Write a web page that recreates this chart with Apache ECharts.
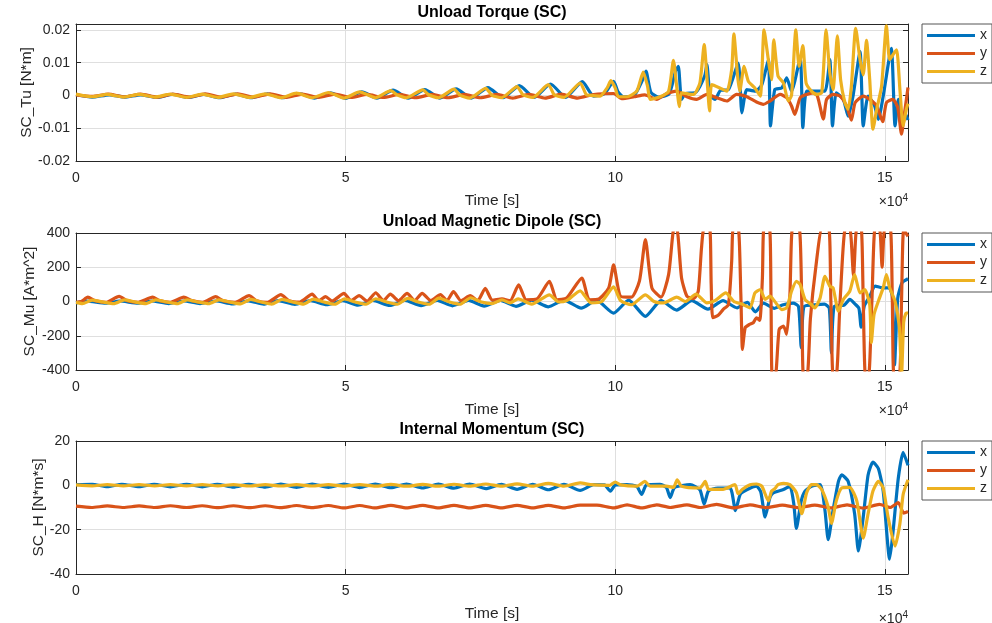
<!DOCTYPE html>
<html>
<head>
<meta charset="utf-8">
<script src="https://cdn.jsdelivr.net/npm/echarts@6/dist/echarts.min.js"></script>
<style>
html, body { margin: 0; padding: 0; background: #ffffff; }
#chart { width: 992px; height: 623px; }
</style>
</head>
<body>
<div id="chart"></div>
<script>
// Time values are in units of 1e4 s (the axis carries a "x10^4" multiplier).

// ---- Unload Torque (SC) [N*m] ----
const torqueX = [
  [0, 0.0002], [0.3, -0.0005], [0.62, 0.0002], [0.9, -0.0005], [1.2, 0.0002], [1.5, -0.0006], [1.79, 0.0003],
  [2.08, -0.0006], [2.38, 0.0003], [2.66, -0.0007], [2.96, 0.0004], [3.25, -0.0007], [3.55, 0.0005], [3.83, -0.0007],
  [4.13, 0.0006], [4.42, -0.0008], [4.72, 0.0008], [5.0, -0.0009], [5.3, 0.0011], [5.58, -0.0008], [5.88, 0.0016],
  [6.16, -0.0008], [6.47, 0.0018], [6.75, -0.0008], [7.05, 0.002], [7.33, -0.0008], [7.64, 0.0024], [7.92, -0.0007],
  [8.22, 0.003], [8.5, -0.0006], [8.8, 0.0035], [9.08, -0.0006], [9.39, 0.0042], [9.6, -0.0002], [9.8, 0.0005],
  [9.97, 0.0043], [10.05, 0.0012], [10.15, -0.0004], [10.35, 0], [10.5, 0.0045], [10.57, 0.0074], [10.66, 0.001],
  [10.8, -0.0005], [11.0, 0.0005], [11.12, 0.0075], [11.17, 0.0089], [11.23, -0.0012], [11.3, 0.0005], [11.5, 0.001],
  [11.66, 0.006], [11.7, 0.0094], [11.76, 0.0], [11.85, -0.0012], [11.95, 0.0015], [12.1, 0.0018], [12.28, 0.0099],
  [12.35, -0.0053], [12.44, 0.0018], [12.6, 0.0013], [12.72, 0.0033], [12.84, 0.0109], [12.88, -0.0093], [12.96, 0.0018],
  [13.09, 0.0023], [13.18, 0.0054], [13.27, 0.0013], [13.43, 0.0114], [13.48, -0.0098], [13.55, 0.0013], [13.73, 0.0013],
  [13.89, 0.0013], [13.98, 0.0109], [14.03, -0.0093], [14.1, 0.0008], [14.23, -0.0012], [14.32, -0.0063], [14.41, -0.0002],
  [14.54, 0.0134], [14.6, -0.0093], [14.69, -0.0002], [14.81, -0.0032], [14.88, -0.0073], [14.97, -0.0002], [15.12, 0.0144],
  [15.19, -0.0093], [15.25, -0.0012], [15.31, -0.0073], [15.37, -0.0053], [15.43, -0.0075]
];
const torqueY = [
  [0, 0.0002], [0.3, -0.0003], [0.6, 0.0004], [0.9, -0.0004], [1.2, 0.0004], [1.5, -0.0005], [1.8, 0.0004],
  [2.1, -0.0005], [2.4, 0.0005], [2.7, -0.0005], [3.0, 0.0005], [3.3, -0.0005], [3.6, 0.0005], [3.9, -0.0006],
  [4.2, 0.0004], [4.5, -0.0006], [4.8, 0.0004], [5.1, -0.0006], [5.4, 0.0003], [5.7, -0.0006], [6.0, 0.0003],
  [6.3, -0.0007], [6.6, 0.0003], [6.9, -0.0007], [7.2, 0.0003], [7.5, -0.0007], [7.8, 0.0003], [8.1, -0.0008],
  [8.4, 0.0003], [8.7, -0.0008], [9.0, 0.0004], [9.3, -0.0008], [9.6, 0.0003], [9.97, 0.0006], [10.12, -0.001],
  [10.35, -0.0004], [10.55, 0.0002], [10.77, -0.0012], [10.95, 0.0005], [11.14, 0.0013], [11.33, -0.0004], [11.51, -0.0012],
  [11.7, 0.0003], [11.88, -0.0007], [12.07, -0.0017], [12.25, 0.0003], [12.44, -0.0004], [12.62, -0.002], [12.75, -0.0027],
  [12.87, -0.0017], [13.06, 0.0003], [13.18, -0.0007], [13.27, -0.0032], [13.33, -0.0058], [13.43, -0.0007], [13.55, 0.0003],
  [13.67, 0.0008], [13.75, -0.0002], [13.86, -0.0072], [13.92, -0.0012], [14.04, 0.0003], [14.17, -0.0002], [14.29, -0.0032],
  [14.38, -0.0075], [14.45, -0.0022], [14.6, -0.0002], [14.72, -0.0012], [14.85, -0.0032], [14.96, -0.008], [15.03, -0.0022],
  [15.15, -0.0012], [15.24, -0.0037], [15.31, -0.0118], [15.36, -0.006], [15.43, 0.0024]
];
const torqueZ = [
  [0, 0.0004], [0.3, -0.0004], [0.58, 0.0003], [0.88, -0.0005], [1.17, 0.0003], [1.46, -0.0005], [1.75, 0.0004],
  [2.05, -0.0006], [2.34, 0.0004], [2.63, -0.0006], [2.92, 0.0005], [3.22, -0.0006], [3.51, 0.0005], [3.8, -0.0007],
  [4.09, 0.0007], [4.38, -0.0007], [4.68, 0.0009], [4.97, -0.0008], [5.26, 0.0011], [5.55, -0.0007], [5.84, 0.0015],
  [5.95, 0.0002], [6.13, -0.0007], [6.43, 0.0017], [6.54, 0.0002], [6.72, -0.0007], [7.01, 0.0019], [7.12, 0.0001],
  [7.3, -0.0008], [7.6, 0.0022], [7.71, 0.0001], [7.89, -0.0007], [8.18, 0.0027], [8.29, 0.0002], [8.47, -0.0006],
  [8.76, 0.0033], [8.87, 0.0002], [9.05, -0.0006], [9.35, 0.0038], [9.46, 0.0003], [9.54, 0], [9.72, -0.0002],
  [9.85, 0.0023], [9.92, 0.0045], [10.0, 0.0023], [10.06, -0.0004], [10.22, -0.0004], [10.4, 0.0013], [10.52, 0.0071],
  [10.6, 0.0028], [10.65, -0.0012], [10.83, -0.0004], [10.99, 0.0013], [11.08, 0.0107], [11.14, 0.0028], [11.19, -0.0034],
  [11.23, 0.0008], [11.45, 0.0003], [11.57, 0.0038], [11.65, 0.0155], [11.71, 0.0033], [11.75, -0.0047], [11.79, 0.0033],
  [11.94, 0.0023], [12.07, 0.0013], [12.16, 0.0079], [12.2, 0.0188], [12.27, 0.0059], [12.31, 0.0013], [12.39, 0.0089],
  [12.47, 0.0043], [12.59, 0.0023], [12.69, -0.0002], [12.76, 0.02], [12.84, 0.0109], [12.9, 0.0048], [12.94, 0.017],
  [13.02, 0.0059], [13.12, 0.0038], [13.21, -0.0017], [13.27, 0], [13.35, 0.02], [13.41, 0.0089], [13.48, 0.0152],
  [13.54, 0.0038], [13.64, 0.0013], [13.73, 0.0003], [13.83, 0.0008], [13.91, 0.02], [13.98, 0.0069], [14.04, 0.0018],
  [14.12, 0.0182], [14.18, 0.0048], [14.26, -0.0022], [14.32, -0.0042], [14.38, 0.0028], [14.46, 0.0205], [14.54, 0.0109],
  [14.6, 0.0063], [14.66, 0.0168], [14.72, 0.0048], [14.78, -0.0103], [14.85, -0.0042], [14.94, 0.0028], [15.03, 0.0212],
  [15.09, 0.0109], [15.17, 0.0129], [15.22, 0.0139], [15.28, 0.0018], [15.34, -0.0093], [15.4, -0.0042], [15.43, -0.0025]
];

// ---- Unload Magnetic Dipole (SC) [A*m^2] ----
const dipoleX = [
  [0, -8], [0.2, 2], [0.55, -10], [0.8, 3], [1.15, -10], [1.4, 3], [1.72, -12], [2.0, 3], [2.3, -12], [2.6, 3],
  [2.9, -14], [3.2, 4], [3.48, -15], [3.75, 5], [4.06, -17], [4.35, 5], [4.65, -19], [4.95, 5], [5.23, -22], [5.5, 6],
  [5.82, -23], [6.1, 6], [6.4, -24], [6.7, 6], [6.98, -25], [7.28, 6], [7.57, -27], [7.87, 6], [8.16, -28], [8.45, 8],
  [8.76, -31], [9.05, 8], [9.37, -39], [9.65, 8], [9.97, -68], [10.25, 8], [10.56, -87], [10.85, 5], [11.14, -50],
  [11.42, 5], [11.72, -45], [12.0, 5], [12.26, -37], [12.45, -5], [12.6, -60], [12.75, -10], [12.95, -40], [13.1, -20],
  [13.3, -10], [13.4, -30], [13.45, -270], [13.5, -30], [13.7, -20], [13.88, -15], [13.97, -40], [14.01, -300], [14.06, -30],
  [14.25, -20], [14.35, 12], [14.45, -15], [14.52, -40], [14.56, -150], [14.62, -25], [14.72, 30], [14.82, 90], [14.95, 80],
  [15.08, 80], [15.14, 30], [15.18, -370], [15.24, 20], [15.32, 110], [15.43, 133]
];
const dipoleY = [
  [0, -5], [0.1, 0], [0.22, 25], [0.35, 5], [0.55, -5], [0.8, 30], [0.95, 5], [1.15, -5], [1.42, 25], [1.55, 5],
  [1.75, -5], [2.0, 25], [2.15, 5], [2.35, -5], [2.59, 28], [2.72, 5], [2.95, -5], [3.21, 34], [3.35, 5], [3.55, -5],
  [3.8, 40], [3.95, 5], [4.15, -3], [4.38, 43], [4.5, 5], [4.63, 28], [4.75, 3], [4.97, 47], [5.1, 5], [5.25, 34],
  [5.4, 3], [5.56, 51], [5.7, 5], [5.83, 43], [5.98, 5], [6.14, 47], [6.28, 5], [6.42, 47], [6.58, 5], [6.76, 40],
  [6.88, 5], [7.0, 58], [7.14, 5], [7.31, 34], [7.45, 5], [7.59, 77], [7.72, 8], [7.9, 15], [8.05, 5], [8.21, 97],
  [8.35, 10], [8.55, 15], [8.78, 117], [8.92, 10], [9.1, 20], [9.38, 137], [9.52, 10], [9.7, 15], [9.88, 80], [9.97, 214],
  [10.1, 30], [10.3, 25], [10.45, 120], [10.56, 361], [10.68, 80], [10.85, 25], [10.99, 157], [11.08, 420], [11.14, 430],
  [11.23, 138], [11.33, 31], [11.45, 17], [11.54, 60], [11.6, 312], [11.65, 430], [11.75, 430], [11.78, 100], [11.81, -95],
  [11.91, -80], [12.0, -47], [12.1, -17], [12.16, 235], [12.19, 430], [12.28, 430], [12.33, 40], [12.36, -280], [12.41, -153],
  [12.49, -134], [12.56, -124], [12.62, -95], [12.68, -110], [12.73, 138], [12.76, 430], [12.86, 430], [12.89, 0],
  [12.91, -430], [12.97, -430], [13.04, -163], [13.12, -144], [13.18, -192], [13.24, 40], [13.29, 430], [13.41, 430],
  [13.46, 0], [13.49, -430], [13.56, -430], [13.62, -100], [13.72, 200], [13.84, 430], [13.96, 430], [14.0, 0],
  [14.04, -430], [14.1, -430], [14.17, 0], [14.27, 430], [14.35, 430], [14.42, 150], [14.48, 430], [14.56, 430],
  [14.6, 0], [14.64, -430], [14.7, -430], [14.76, 0], [14.82, 430], [14.9, 430], [14.95, 200], [15.0, 430], [15.1, 430],
  [15.14, 0], [15.17, -430], [15.27, -430], [15.31, 0], [15.35, 420], [15.43, 380]
];
const dipoleZ = [
  [0, -5], [0.12, -12], [0.3, 8], [0.5, -3], [0.7, -12], [0.9, 10], [1.1, -3], [1.3, -12], [1.48, 10], [1.68, -3],
  [1.88, -13], [2.06, 10], [2.26, -3], [2.46, -13], [2.65, 10], [2.85, -3], [3.05, -14], [3.24, 12], [3.44, -3],
  [3.63, -15], [3.82, 12], [4.02, -3], [4.22, -15], [4.4, 14], [4.6, -3], [4.8, -16], [4.98, 15], [5.18, -3],
  [5.38, -16], [5.56, 16], [5.76, -3], [5.96, -16], [6.15, 18], [6.35, -3], [6.55, -16], [6.73, 20], [6.93, -3],
  [7.12, -16], [7.32, 22], [7.52, -3], [7.72, -12], [7.9, 10], [8.05, -8], [8.2, 15], [8.45, -15], [8.78, 39],
  [8.95, -3], [9.1, 5], [9.35, 62], [9.55, -8], [9.75, 0], [9.97, 85], [10.1, 5], [10.3, -19], [10.56, 39], [10.72, 0],
  [10.9, -8], [11.14, 25], [11.3, 0], [11.5, 43], [11.7, -8], [11.85, 5], [12.05, 50], [12.2, 0], [12.35, -15],
  [12.5, -37], [12.59, 50], [12.69, 70], [12.78, 12], [12.87, 31], [12.96, 0], [13.09, -47], [13.18, -37], [13.27, 60],
  [13.36, 118], [13.43, 99], [13.52, 12], [13.64, -18], [13.7, -37], [13.8, 21], [13.89, 147], [13.98, 89], [14.04, 80],
  [14.14, -56], [14.23, 12], [14.35, 60], [14.44, 157], [14.54, 50], [14.63, 70], [14.72, -20], [14.75, -240],
  [14.8, -76], [14.88, 2], [14.97, 80], [15.03, 157], [15.09, 80], [15.19, 2], [15.27, -153], [15.31, -430],
  [15.35, -120], [15.39, -70], [15.43, -66]
];

// ---- Internal Momentum (SC) [N*m*s] ----
const momentumX = [
  [0, 0.3], [0.3, 0.5], [0.58, -0.6], [0.85, 0.5], [1.17, -0.6], [1.45, 0.5], [1.75, -0.7], [2.05, 0.5], [2.34, -0.7],
  [2.62, 0.5], [2.92, -0.8], [3.2, 0.5], [3.51, -0.8], [3.8, 0.6], [4.09, -0.9], [4.38, 0.6], [4.68, -0.9], [4.97, 0.6],
  [5.26, -1.0], [5.55, 0.6], [5.84, -1.1], [6.13, 0.6], [6.43, -1.2], [6.72, 0.6], [7.01, -1.3], [7.3, 0.6], [7.6, -1.5],
  [7.89, 0.5], [8.18, -1.8], [8.47, 0.5], [8.76, -2.0], [9.05, 0.5], [9.35, -2.3], [9.6, 0.3], [9.8, 0.2], [9.91, -2.6],
  [10.0, 0.1], [10.22, 0.3], [10.4, -0.5], [10.49, -4.1], [10.58, 0.2], [10.83, 0.5], [10.95, -1.0], [11.02, -5.5],
  [11.1, -1.0], [11.39, 0.3], [11.57, -2.0], [11.65, -8.5], [11.73, -2.5], [11.9, -1.2], [12.13, -1.2], [12.23, -11.4],
  [12.32, -4.0], [12.44, -2.0], [12.62, -0.4], [12.7, -3], [12.78, -14.3], [12.87, -5.5], [12.93, -3.4], [13.12, -1.9],
  [13.24, -0.4], [13.31, -8], [13.36, -19.4], [13.45, -7], [13.52, -2.6], [13.64, -0.4], [13.8, 0.3], [13.89, -11.3],
  [13.95, -24.5], [14.04, -11.3], [14.14, 1.8], [14.2, 4.7], [14.32, 1.8], [14.44, -12.8], [14.51, -29.6], [14.6, -14.3],
  [14.69, 4.7], [14.78, 10.5], [14.88, 7.6], [14.97, -2.6], [15.09, -33.3], [15.15, -21.6], [15.25, 3.2], [15.34, 14.9],
  [15.43, 9.0]
];
const momentumY = [
  [0, -9.4], [0.29, -10.0], [0.58, -9.3], [0.88, -10.0], [1.17, -9.3], [1.46, -10.0], [1.75, -9.2], [2.05, -10.0],
  [2.34, -9.2], [2.63, -10.1], [2.92, -9.2], [3.22, -10.1], [3.51, -9.2], [3.8, -10.1], [4.09, -9.1], [4.38, -10.1],
  [4.68, -9.1], [4.97, -10.2], [5.26, -9.1], [5.55, -10.2], [5.84, -9.0], [6.13, -10.2], [6.43, -9.0], [6.72, -10.2],
  [7.01, -9.0], [7.3, -10.2], [7.6, -9.0], [7.89, -10.2], [8.18, -9.0], [8.47, -10.2], [8.76, -9.0], [9.05, -10.2],
  [9.35, -8.9], [9.66, -8.9], [9.97, -10.2], [10.22, -8.8], [10.49, -10.2], [10.77, -8.8], [11.02, -10.0], [11.33, -8.8],
  [11.57, -10.0], [11.88, -8.6], [12.19, -10.2], [12.5, -8.8], [12.8, -10.1], [13.1, -8.9], [13.4, -10.1], [13.7, -8.9],
  [14.0, -10.2], [14.3, -8.8], [14.6, -10.3], [14.9, -8.6], [15.1, -10.0], [15.25, -7.8], [15.35, -12.5], [15.43, -11.8]
];
const momentumZ = [
  [0, 0.2], [0.3, -0.2], [0.58, 0.3], [0.88, -0.2], [1.17, 0.3], [1.46, -0.2], [1.75, 0.3], [2.05, -0.2], [2.34, 0.3],
  [2.63, -0.2], [2.92, 0.3], [3.22, -0.3], [3.51, 0.3], [3.8, -0.3], [4.09, 0.3], [4.38, -0.3], [4.68, 0.3], [4.97, -0.4],
  [5.26, 0.3], [5.55, -0.4], [5.84, 0.4], [6.13, -0.4], [6.43, 0.4], [6.72, -0.4], [7.01, 0.5], [7.3, -0.4], [7.6, 0.6],
  [7.89, -0.4], [8.18, 0.7], [8.47, -0.4], [8.76, 0.9], [9.05, -0.4], [9.35, 1.1], [9.54, 0.3], [9.9, 0.0], [10.0, 1.5],
  [10.1, 0.2], [10.4, -0.4], [10.55, 1.75], [10.65, -0.4], [10.95, -0.4], [11.08, -0.9], [11.15, 2.5], [11.23, -0.4],
  [11.57, -1.2], [11.67, 1.75], [11.73, -1.8], [12.0, -1.8], [12.22, 0.3], [12.28, -3.8], [12.36, -1.8], [12.5, 0.3],
  [12.62, 0.6], [12.72, -0.4], [12.84, -7.0], [12.9, -2.6], [12.96, -1.5], [13.02, 0.3], [13.12, 0.9], [13.24, 0.3],
  [13.36, -3.3], [13.46, -12.8], [13.55, -3.3], [13.64, 0.3], [13.73, 0.3], [13.83, -1.9], [13.95, -9.8], [14.01, -17.2],
  [14.1, -7.0], [14.2, -1.2], [14.35, -0.9], [14.48, -7.0], [14.6, -23.8], [14.69, -12.8], [14.78, -2.6], [14.88, 1.75],
  [14.97, -1.2], [15.06, -14.3], [15.19, -27.4], [15.28, -17.2], [15.34, -4.1], [15.43, 2.5]
];

// ---- axes / labels ----
const panelTitles = ['Unload Torque (SC)', 'Unload Magnetic Dipole (SC)', 'Internal Momentum (SC)'];
const yAxisNames = ['SC_Tu [N*m]', 'SC_Mu [A*m^2]', 'SC_H [N*m*s]'];
const yLimits = [[-0.02, 0.0218], [-400, 400], [-40, 20]];
const yIntervals = [0.01, 200, 20];
const xLabel = 'Time [s]';
const xLimits = [0, 15.43];
const xInterval = 5;
const legendNames = ['x', 'y', 'z'];
const panelData = [
  [torqueX, torqueY, torqueZ],
  [dipoleX, dipoleY, dipoleZ],
  [momentumX, momentumY, momentumZ]
];

const colors = ['#0072BD', '#D95319', '#EDB120'];
const FONT = '"Liberation Sans", Arial, Helvetica, sans-serif';
const AXIS_COLOR = '#262626';
const GRID_COLOR = '#dfdfdf';

const gridTops = [24, 233, 441];
const gridHeight = 137;
const gridLeft = 76;
const gridRight = 84;
const yNameGaps = [41.5, 38, 29.5];

function onStep(v, step) {
  const k = Math.round(v / step);
  return Math.abs(v - k * step) < step * 1e-6;
}

const grids = [], xAxes = [], yAxes = [], series = [], legends = [], graphics = [];

gridTops.forEach((top, i) => {
  grids.push({ left: gridLeft, right: gridRight, top: top, height: gridHeight, containLabel: false });

  // bottom axis with labels
  xAxes.push({
    type: 'value', gridIndex: i, position: 'bottom', min: xLimits[0], max: xLimits[1], interval: xInterval,
    name: xLabel, nameLocation: 'middle', nameGap: 32, nameMoveOverlap: false,
    nameTextStyle: { fontFamily: FONT, fontSize: 15.5, color: AXIS_COLOR },
    axisLine: { show: true, onZero: false, lineStyle: { color: AXIS_COLOR, width: 1 } },
    axisTick: { show: true, inside: true, length: 5, lineStyle: { color: AXIS_COLOR } },
    axisLabel: {
      margin: 10, fontFamily: FONT, fontSize: 14, color: AXIS_COLOR,
      formatter: v => onStep(v, xInterval) ? String(Math.round(v)) : ''
    },
    splitLine: { show: true, lineStyle: { color: GRID_COLOR, width: 1 } }
  });
  yAxes.push({
    type: 'value', gridIndex: i, position: 'left', min: yLimits[i][0], max: yLimits[i][1], interval: yIntervals[i],
    name: yAxisNames[i], nameLocation: 'middle', nameGap: yNameGaps[i], nameMoveOverlap: false,
    nameTextStyle: { fontFamily: FONT, fontSize: 15.5, color: AXIS_COLOR },
    axisLine: { show: true, onZero: false, lineStyle: { color: AXIS_COLOR, width: 1 } },
    axisTick: { show: true, inside: true, length: 5, lineStyle: { color: AXIS_COLOR } },
    axisLabel: {
      margin: 6, fontFamily: FONT, fontSize: 14, color: AXIS_COLOR,
      formatter: v => onStep(v, yIntervals[i]) ? String(+v.toFixed(4)) : ''
    },
    splitLine: { show: true, lineStyle: { color: GRID_COLOR, width: 1 } }
  });

  legendNames.forEach((name, s) => {
    series.push({
      type: 'line', name: name, xAxisIndex: i, yAxisIndex: i, data: panelData[i][s],
      showSymbol: false, smooth: 0.2, clip: true,
      lineStyle: { color: colors[s], width: 3.2 }, itemStyle: { color: colors[s] },
      emphasis: { disabled: true }, z: 2 + s
    });
  });

  legends.push({
    left: 922, top: top, orient: 'vertical', icon: 'rect', itemWidth: 48, itemHeight: 3, itemGap: 3,
    padding: [4, 5, 4, 5], borderColor: '#555', borderWidth: 1, backgroundColor: '#fff',
    textStyle: { fontFamily: FONT, fontSize: 14, color: AXIS_COLOR, lineHeight: 15 },
    selectedMode: false, data: legendNames
  });

  graphics.push({
    type: 'text', x: (gridLeft + (992 - gridRight)) / 2, y: top - 11,
    style: { text: panelTitles[i], fill: '#000', font: 'bold 16px ' + FONT, align: 'center', verticalAlign: 'middle' }
  });
  graphics.push({
    type: 'text', x: 992 - gridRight, y: top + gridHeight + 41,
    style: {
      text: '{m|×10}{e|4}', align: 'right', verticalAlign: 'middle', fill: AXIS_COLOR,
      rich: {
        m: { fontFamily: FONT, fontSize: 14, color: AXIS_COLOR },
        e: { fontFamily: FONT, fontSize: 10, color: AXIS_COLOR, verticalAlign: 'top', padding: [0, 0, 8, 0] }
      }
    }
  });
});

// mirrored axes on top and right to close the box with inward ticks
gridTops.forEach((top, i) => {
  xAxes.push({
    type: 'value', gridIndex: i, position: 'top', min: xLimits[0], max: xLimits[1], interval: xInterval,
    axisLine: { show: true, onZero: false, lineStyle: { color: AXIS_COLOR, width: 1 } },
    axisTick: { show: true, inside: true, length: 5, lineStyle: { color: AXIS_COLOR } },
    axisLabel: { show: false }, splitLine: { show: false }
  });
  yAxes.push({
    type: 'value', gridIndex: i, position: 'right', min: yLimits[i][0], max: yLimits[i][1], interval: yIntervals[i],
    axisLine: { show: true, onZero: false, lineStyle: { color: AXIS_COLOR, width: 1 } },
    axisTick: { show: true, inside: true, length: 5, lineStyle: { color: AXIS_COLOR } },
    axisLabel: { show: false }, splitLine: { show: false }
  });
});

const chart = echarts.init(document.getElementById('chart'), null, { renderer: 'canvas' });
chart.setOption({
  animation: false,
  backgroundColor: '#ffffff',
  grid: grids,
  xAxis: xAxes,
  yAxis: yAxes,
  legend: legends,
  series: series,
  graphic: graphics
});
</script>
</body>
</html>
